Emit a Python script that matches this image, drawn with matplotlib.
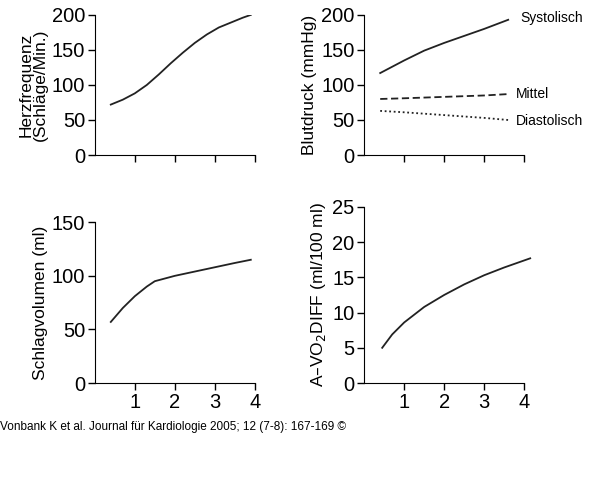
import matplotlib.pyplot as plt

plt.rcParams['font.family'] = 'Liberation Sans'

# data
hf_x = [0.4, 0.7, 1.0, 1.3, 1.6, 1.9, 2.2, 2.5, 2.8, 3.1, 3.4, 3.7, 3.9]
hf_y = [72, 79, 88, 100, 115, 131, 146, 160, 172, 182, 189, 196, 200]

bp_x = [0.4, 1.0, 1.5, 2.0, 2.5, 3.0, 3.6]
sys_y = [117, 135, 149, 160, 170, 180, 193]
mit_y = [80, 81, 82, 83, 84, 85, 87]
dia_y = [63, 61, 59, 57, 55, 53, 50]

sv_x = [0.4, 0.7, 1.0, 1.3, 1.5, 1.7, 2.0, 2.5, 3.0, 3.5, 3.9]
sv_y = [57, 70, 81, 90, 95, 97, 100, 104, 108, 112, 115]

av_x = [0.45, 0.7, 1.0, 1.5, 2.0, 2.5, 3.0, 3.5, 4.15]
av_y = [5.0, 6.9, 8.6, 10.8, 12.5, 14.0, 15.3, 16.4, 17.7]

fig = plt.figure(figsize=(6, 4.8), dpi=100)
ax1 = fig.add_axes([0.158, 0.677, 0.28, 0.292])
ax2 = fig.add_axes([0.607, 0.677, 0.28, 0.292])
ax3 = fig.add_axes([0.158, 0.202, 0.28, 0.335])
ax4 = fig.add_axes([0.607, 0.202, 0.28, 0.367])

lc = '#222222'
ax1.plot(hf_x, hf_y, color=lc, lw=1.3)
ax2.plot(bp_x, sys_y, color=lc, lw=1.3)
ax2.plot(bp_x, mit_y, color=lc, lw=1.3, ls=(0, (4, 2)))
ax2.plot(bp_x, dia_y, color=lc, lw=1.3, ls=(0, (1, 1.5)))
ax3.plot(sv_x, sv_y, color=lc, lw=1.3)
ax4.plot(av_x, av_y, color=lc, lw=1.3)

ax2.text(3.9, 196, 'Systolisch', fontsize=10, va='center')
ax2.text(3.8, 87, 'Mittel', fontsize=10, va='center')
ax2.text(3.8, 49, 'Diastolisch', fontsize=10, va='center')

for ax, ymax, step in [(ax1, 200, 50), (ax2, 200, 50), (ax3, 150, 50), (ax4, 25, 5)]:
    ax.set_xlim(0, 4.2)
    ax.set_ylim(0, ymax)
    ax.set_yticks(range(0, ymax + 1, step))
    ax.set_xticks([1, 2, 3, 4])
    ax.spines['top'].set_visible(False)
    ax.spines['right'].set_visible(False)
    ax.spines['bottom'].set_bounds(0, 4)
    ax.tick_params(labelsize=14.5, length=5, width=1, pad=2)

for ax in (ax1, ax2):
    ax.set_xticklabels([])

ax1.set_ylabel('Herzfrequenz\n(Schläge/Min.)', fontsize=12.5, linespacing=0.95, labelpad=3)
ax2.set_ylabel('Blutdruck (mmHg)', fontsize=12.5, labelpad=3)
ax3.set_ylabel('Schlagvolumen (ml)', fontsize=12.5, labelpad=3)
ax4.set_ylabel('A–VO$_2$DIFF (ml/100 ml)', fontsize=12.5, labelpad=3)

fig.text(0.0, 0.105, 'Vonbank K et al. Journal für Kardiologie 2005; 12 (7-8): 167-169 ©',
         fontsize=8.5)

fig.savefig('out.png', dpi=100)
